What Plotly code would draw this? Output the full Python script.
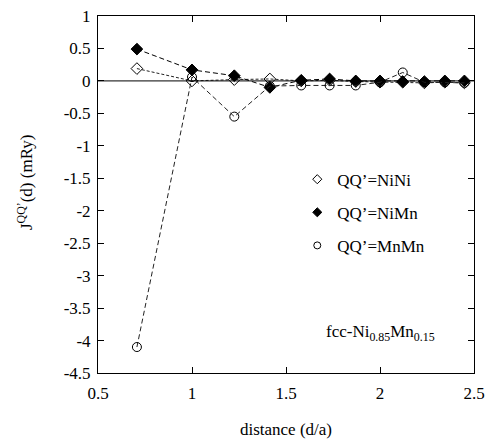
import plotly.graph_objects as go

# fcc neighbour-shell distances (in units of the lattice constant a)
distance = [0.707, 1.0, 1.225, 1.414, 1.581, 1.732, 1.871, 2.0, 2.121, 2.236, 2.345, 2.449]

# pair exchange interactions J^{QQ'}(d) in mRy
j_nini = [0.19, 0.00, 0.02, 0.03, 0.00, 0.01, -0.01, -0.02, -0.02, -0.03, -0.02, -0.03]
j_nimn = [0.49, 0.17, 0.08, -0.10, 0.01, 0.03, 0.00, 0.00, -0.01, -0.01, 0.00, 0.00]
j_mnmn = [-4.10, 0.06, -0.55, -0.08, -0.07, -0.07, -0.07, -0.02, 0.13, -0.02, -0.02, -0.03]

series_names = ["QQ’=NiNi", "QQ’=NiMn", "QQ’=MnMn"]
x_ticks = [0.5, 1, 1.5, 2, 2.5]
y_ticks = [1, 0.5, 0, -0.5, -1, -1.5, -2, -2.5, -3, -3.5, -4, -4.5]

FONT = "Liberation Serif"

styles = [
    dict(symbol="diamond-open", dash="3px,2px", color="#222"),
    dict(symbol="diamond", dash="5px,3px", color="#000"),
    dict(symbol="circle-open", dash="5px,3px", color="#222"),
]

fig = go.Figure()

for name, ys, st in zip(series_names, [j_nini, j_nimn, j_mnmn], styles):
    fig.add_trace(go.Scatter(
        x=distance, y=ys, mode="lines+markers", showlegend=False,
        line=dict(color=st["color"], width=1, dash=st["dash"]),
        marker=dict(symbol=st["symbol"], size=9, color="#000",
                    line=dict(color="#000", width=1)),
        cliponaxis=False,
    ))

# legend keys (smaller symbols, no line)
for i, (name, st) in enumerate(zip(series_names, styles)):
    fig.add_trace(go.Scatter(
        x=[None], y=[None], mode="markers", name=name, legendgroup=f"g{i}",
        marker=dict(symbol=st["symbol"], size=7, color="#000",
                    line=dict(color="#000", width=1)),
    ))

fig.add_hline(y=0, line=dict(color="#000", width=1))

axis_common = dict(
    showline=True, linecolor="#000", linewidth=1, mirror="ticks",
    ticks="inside", ticklen=6, tickcolor="#000", tickwidth=1,
    showgrid=False, zeroline=False, automargin=False,
    tickfont=dict(family=FONT, size=17, color="#000"),
)

fig.update_xaxes(range=[0.5, 2.5], tickvals=x_ticks,
                 ticktext=[f"{v:g}" for v in x_ticks], ticklabelstandoff=5,
                 title=dict(text="distance (d/a)", font=dict(family=FONT, size=17, color="#000"),
                            standoff=24),
                 **axis_common)
fig.update_yaxes(range=[-4.5, 1], tickvals=y_ticks,
                 ticktext=[f"{v:g}" for v in y_ticks], ticklabelstandoff=3,
                 **axis_common)

# vertical axis title, placed slightly above the plot's mid-height
fig.add_annotation(
    x=-0.194, y=0.535, xref="paper", yref="paper", xanchor="center", yanchor="middle",
    text="J<sup>QQ’</sup>(d) (mRy)", textangle=-90, showarrow=False,
    font=dict(family=FONT, size=17, color="#000"),
)

fig.add_annotation(
    x=0.6, y=0.112, xref="paper", yref="paper", xanchor="left", yanchor="middle",
    text="fcc-Ni<sub>0.85</sub>Mn<sub>0.15</sub>", showarrow=False,
    font=dict(family=FONT, size=17, color="#000"),
)

fig.update_layout(
    width=487, height=439,
    margin=dict(l=98, r=13, t=16, b=66),
    paper_bgcolor="white", plot_bgcolor="white",
    font=dict(family=FONT, size=17, color="#000"),
    legend=dict(x=0.53, y=0.592, xanchor="left", yanchor="top",
                bgcolor="rgba(0,0,0,0)", tracegroupgap=8,
                font=dict(family=FONT, size=17, color="#000")),
)

fig.write_html("out.html")
